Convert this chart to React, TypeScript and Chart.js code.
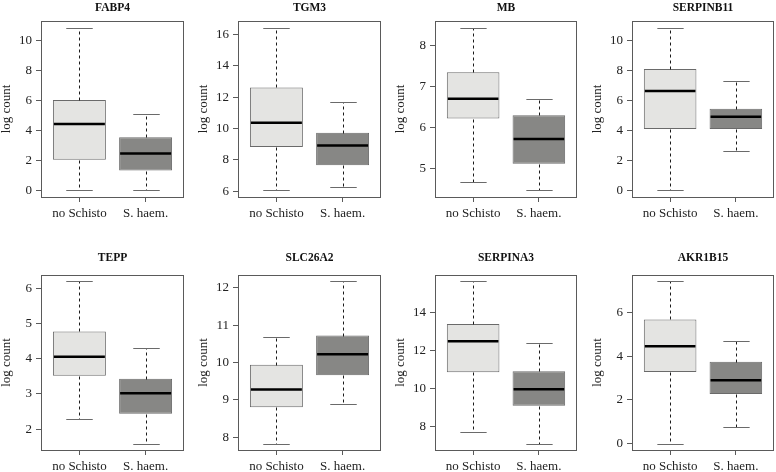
import React, { useEffect, useRef } from 'react';
import { Chart, registerables } from 'chart.js';

Chart.register(...registerables);

// ---- data ----
const genes = ['FABP4', 'TGM3', 'MB', 'SERPINB11', 'TEPP', 'SLC26A2', 'SERPINA3', 'AKR1B15'];
const groups = ['no Schisto', 'S. haem.'];
// [lower whisker, Q1, median, Q3, upper whisker]
const noSchisto = [
  [0, 2.05, 4.45, 6.05, 10.89],
  [6.06, 8.83, 10.37, 12.62, 16.43],
  [4.67, 6.21, 6.69, 7.34, 8.43],
  [0, 4.11, 6.65, 8.11, 10.89],
  [2.28, 3.52, 4.06, 4.78, 6.2],
  [7.83, 8.8, 9.28, 9.94, 10.68],
  [7.69, 10.85, 12.48, 13.39, 15.63],
  [0, 3.28, 4.47, 5.7, 7.44],
];
const sHaem = [
  [0, 1.33, 2.47, 3.56, 5.09],
  [6.28, 7.67, 8.92, 9.74, 11.67],
  [4.455, 5.11, 5.71, 6.29, 6.68],
  [2.65, 4.11, 4.93, 5.47, 7.31],
  [1.59, 2.44, 3.02, 3.43, 4.31],
  [8.9, 9.66, 10.22, 10.72, 12.17],
  [7.1, 9.09, 9.96, 10.91, 12.39],
  [0.77, 2.27, 2.9, 3.76, 4.72],
];
const yTicks = [
  [0, 2, 4, 6, 8, 10],
  [6, 8, 10, 12, 14, 16],
  [5, 6, 7, 8],
  [0, 2, 4, 6, 8, 10],
  [2, 3, 4, 5, 6],
  [8, 9, 10, 11, 12],
  [8, 10, 12, 14],
  [0, 2, 4, 6],
];
const yLabel = 'log count';

// ---- layout / style ----
const COL_LEFT = [0, 194, 388, 582];
const COL_W = 194;
const FRAME_L = [41, 238, 435, 632];
const FRAME_R = [184, 381, 577, 774];
const ROW_TOP = [0, 236];
const ROW_H = 236;
const FRAME_T = [21, 275];
const FRAME_B = [197, 450];
const TITLE_Y = [8, 258];
const FONT = '"Liberation Serif", "DejaVu Serif", serif';
const LIGHT = '#e4e4e2';
const DARK = '#878785';
const BOX_BORDER = '#6a6a6a';
const FRAME = '#5a5a5a';

type PanelProps = { idx: number; row: number; col: number };

function Panel({ idx, row, col }: PanelProps) {
  const ref = useRef<HTMLCanvasElement | null>(null);
  const left = COL_LEFT[col];
  const top = ROW_TOP[row];
  const width = COL_W;
  const height = ROW_H;

  useEffect(() => {
    if (!ref.current) return;
    const stats = [noSchisto[idx], sHaem[idx]];
    const lo = Math.min(stats[0][0], stats[1][0]);
    const hi = Math.max(stats[0][4], stats[1][4]);
    const pad = 0.04 * (hi - lo);

    const boxParts = {
      id: 'boxParts',
      afterDatasetsDraw(chart: any) {
        const { ctx, scales } = chart;
        const xs = scales.x;
        const ys = scales.y;
        const meta = chart.getDatasetMeta(0);
        stats.forEach((s, i) => {
          const bar = meta.data[i];
          const bw = bar.width;
          const cx = Math.round(xs.getPixelForValue(i + 1)) + 0.5;
          const py = (v: number) => Math.round(ys.getPixelForValue(v)) + 0.5;
          ctx.save();
          // whiskers
          ctx.strokeStyle = '#1a1a1a';
          ctx.lineWidth = 1;
          ctx.setLineDash([3, 3]);
          ctx.beginPath();
          ctx.moveTo(cx, py(s[3]));
          ctx.lineTo(cx, py(s[4]));
          ctx.moveTo(cx, py(s[1]));
          ctx.lineTo(cx, py(s[0]));
          ctx.stroke();
          ctx.setLineDash([]);
          // caps
          ctx.strokeStyle = BOX_BORDER;
          ctx.beginPath();
          ctx.moveTo(cx - bw / 4, py(s[4]));
          ctx.lineTo(cx + bw / 4, py(s[4]));
          ctx.moveTo(cx - bw / 4, py(s[0]));
          ctx.lineTo(cx + bw / 4, py(s[0]));
          ctx.stroke();
          // median
          ctx.strokeStyle = '#000';
          ctx.lineWidth = 2.5;
          const my = ys.getPixelForValue(s[2]);
          ctx.beginPath();
          ctx.moveTo(bar.x - bw / 2 + 1, my);
          ctx.lineTo(bar.x + bw / 2 - 1, my);
          ctx.stroke();
          ctx.restore();
        });
      },
      afterDraw(chart: any) {
        const { ctx, chartArea } = chart;
        ctx.save();
        ctx.strokeStyle = FRAME;
        ctx.lineWidth = 1;
        ctx.strokeRect(chartArea.left + 0.5, chartArea.top + 0.5, chartArea.right - chartArea.left - 1, chartArea.bottom - chartArea.top);
        // title
        ctx.fillStyle = '#111';
        ctx.font = `bold 11.5px ${FONT}`;
        ctx.textAlign = 'center';
        ctx.textBaseline = 'middle';
        ctx.fillText(genes[idx], (chartArea.left + chartArea.right) / 2, TITLE_Y[row] - top);
        // y label
        ctx.translate(FRAME_L[col] - 34 - left, (chartArea.top + chartArea.bottom) / 2);
        ctx.rotate(-Math.PI / 2);
        ctx.font = `13px ${FONT}`;
        ctx.fillStyle = '#222';
        ctx.fillText(yLabel, 0, 0);
        ctx.restore();
      },
    };

    const chart = new Chart(ref.current, {
      type: 'bar',
      data: {
        datasets: [
          {
            data: stats.map((s, i) => ({ x: i + 1, y: [s[1], s[3]] })) as any,
            backgroundColor: [LIGHT, DARK],
            borderColor: BOX_BORDER,
            borderWidth: 1,
            borderSkipped: false,
            barPercentage: 0.8,
            categoryPercentage: 1,
          },
        ],
      },
      options: {
        animation: false,
        responsive: false,
        events: [],
        layout: {
          padding: {
            top: FRAME_T[row] - top,
            right: left + width - FRAME_R[col],
            left: 0,
            bottom: 0,
          },
        },
        plugins: {
          legend: { display: false },
          tooltip: { enabled: false },
          title: { display: false },
        },
        scales: {
          x: {
            type: 'linear',
            min: 0.42,
            max: 2.58,
            offset: false,
            afterBuildTicks: (s: any) => {
              s.ticks = groups.map((_, i) => ({ value: i + 1 }));
            },
            afterFit: (s: any) => {
              s.height = top + height - FRAME_B[row];
            },
            ticks: {
              callback: (_v: any, i: number) => groups[i],
              font: { family: FONT, size: 13 },
              color: '#222',
              padding: 4,
              maxRotation: 0,
              autoSkip: false,
            },
            grid: { offset: false, drawOnChartArea: false, drawTicks: true, tickLength: 5, color: FRAME },
            border: { display: false },
          },
          y: {
            type: 'linear',
            min: lo - pad,
            max: hi + pad,
            afterBuildTicks: (s: any) => {
              s.ticks = yTicks[idx].map((v) => ({ value: v }));
            },
            afterFit: (s: any) => {
              s.width = FRAME_L[col] - left;
            },
            ticks: {
              callback: (v: any) => String(v),
              font: { family: FONT, size: 13 },
              color: '#222',
              padding: 4,
              autoSkip: false,
            },
            grid: { offset: false, drawOnChartArea: false, drawTicks: true, tickLength: 5, color: FRAME },
            border: { display: false },
          },
        },
      } as any,
      plugins: [boxParts],
    });
    return () => chart.destroy();
  }, [idx, row, col]);

  return (
    <canvas
      ref={ref}
      width={width}
      height={height}
      style={{ position: 'absolute', left, top, width, height, display: 'block' }}
    />
  );
}

export default function App() {
  return (
    <div style={{ position: 'absolute', left: 0, top: 0, width: 776, height: 472, background: '#fff', overflow: 'hidden' }}>
      {genes.map((g, i) => (
        <Panel key={g} idx={i} row={Math.floor(i / 4)} col={i % 4} />
      ))}
    </div>
  );
}
